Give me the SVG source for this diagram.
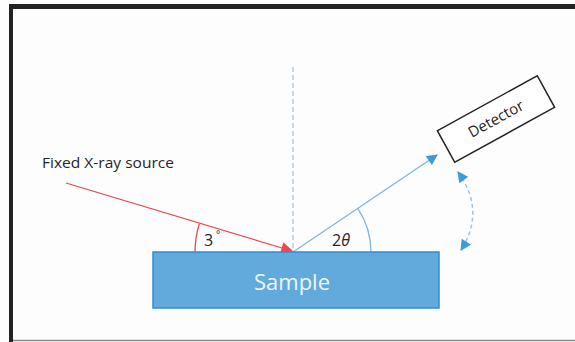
<svg xmlns="http://www.w3.org/2000/svg" width="575" height="342" viewBox="0 0 575 342">
  <style>
    .lbl { font-family: "Open Sans", "Liberation Sans", sans-serif; fill: #262626; }
    .frame { fill: #222222; }
    .blue-head { fill: #3d9bdb; }
  </style>
  <defs>
    <marker id="redHead" viewBox="0 0 10 10" refX="9" refY="5" markerWidth="13" markerHeight="12" markerUnits="userSpaceOnUse" orient="auto">
      <path d="M0,0 L10,5 L0,10 Z" fill="#f0474d"/>
    </marker>
    <marker id="blueHead" viewBox="0 0 10 10" refX="9" refY="5" markerWidth="12" markerHeight="11" markerUnits="userSpaceOnUse" orient="auto">
      <path d="M0,0 L10,5 L0,10 Z" class="blue-head"/>
    </marker>
    <marker id="blueHeadStart" viewBox="0 0 10 10" refX="1" refY="5" markerWidth="12" markerHeight="11" markerUnits="userSpaceOnUse" orient="auto">
      <path d="M10,0 L0,5 L10,10 Z" class="blue-head"/>
    </marker>
  </defs>

  <!-- page background and frame -->
  <rect x="0" y="0" width="575" height="342" fill="#fdfdfd"/>
  <rect class="frame" x="9" y="4" width="566" height="5"/>
  <rect class="frame" x="9" y="4" width="4" height="338"/>
  <line x1="13" y1="340.5" x2="575" y2="340.5" stroke="#8a8a8a" stroke-width="1.5"/>

  <!-- connectors: beams, normal, angle arcs, rotation arrow -->
  <g id="connectors" fill="none">
    <line x1="293" y1="67" x2="293" y2="252" stroke="#9cc3e0" stroke-width="1.2" stroke-dasharray="5,3"/>
    <line x1="66" y1="183" x2="292" y2="251" stroke="#f0474d" stroke-width="1.3" marker-end="url(#redHead)"/>
    <line x1="293" y1="252" x2="437" y2="155" stroke="#7fb6de" stroke-width="1.3" marker-end="url(#blueHead)"/>
    <path d="M195,252 A97,97 0 0 1 199.4,223.6" stroke="#f0474d" stroke-width="1.3"/>
    <path d="M371,252 A78,78 0 0 0 357.7,208.4" stroke="#7fb6de" stroke-width="1.3"/>
    <path d="M458,172 Q486,211 461,250" stroke="#9cc3e0" stroke-width="1.5" stroke-dasharray="4,3" marker-start="url(#blueHeadStart)" marker-end="url(#blueHead)"/>
  </g>

  <g id="source">
    <text class="lbl" x="42" y="168" font-size="15" textLength="132" lengthAdjust="spacingAndGlyphs">Fixed X-ray source</text>
  </g>

  <g id="incident-angle">
    <text class="lbl" x="204" y="246" font-size="16">3</text>
    <text class="lbl" x="216" y="238" font-size="10">°</text>
  </g>

  <g id="reflection-angle">
    <text class="lbl" x="332" y="246" font-size="16">2<tspan font-style="italic">θ</tspan></text>
  </g>

  <g id="sample">
    <rect x="153" y="252" width="286" height="56" fill="#62a9dc" stroke="#2f8ed0" stroke-width="1.5"/>
    <text x="292" y="290" font-size="22" text-anchor="middle" fill="#eef6fc" font-family="Open Sans, Liberation Sans, sans-serif">Sample</text>
  </g>

  <g id="detector" transform="translate(496,119) rotate(-28.8)">
    <rect x="-57" y="-18" width="114" height="36" fill="#ffffff" stroke="#222222" stroke-width="1.5"/>
    <text class="lbl" x="0" y="5" font-size="15" text-anchor="middle">Detector</text>
  </g>
</svg>
